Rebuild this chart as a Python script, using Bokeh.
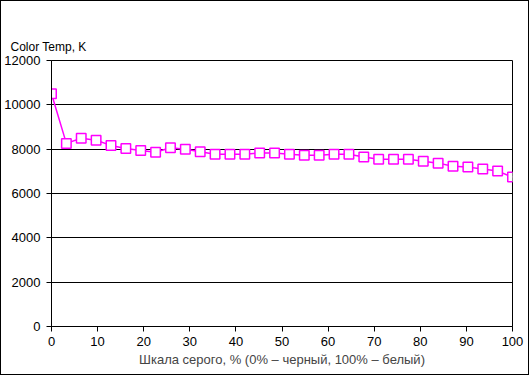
from bokeh.plotting import figure
from bokeh.models import Range1d, FixedTicker
from bokeh.embed import file_html
from bokeh.resources import INLINE

x_pct = [i * 100 / 31 for i in range(32)]
color_temp = [10500, 8260, 8490, 8400, 8170, 8030, 7940, 7860, 8060, 8000,
              7880, 7775, 7775, 7775, 7825, 7830, 7775, 7730, 7730, 7775,
              7775, 7650, 7550, 7550, 7550, 7460, 7370, 7230, 7190, 7100,
              7010, 6740]
x_ticks = [0, 10, 20, 30, 40, 50, 60, 70, 80, 90, 100]
y_ticks = [0, 2000, 4000, 6000, 8000, 10000, 12000]
y_title = "Color Temp, K"
x_title = "Шкала серого, % (0% – черный, 100% – белый)"

FONT = "Liberation Sans"
MAG = "#FF00FF"

p = figure(width=529, height=375, output_backend="svg", toolbar_location=None,
           x_range=Range1d(0, 100), y_range=Range1d(0, 12000),
           min_border_left=50, min_border_right=18, min_border_top=59,
           min_border_bottom=50)
p.styles = {"border": "1px solid black"}
p.background_fill_color = "white"
p.border_fill_color = "white"
p.outline_line_color = "black"
p.outline_line_width = 1

p.title.text = y_title
p.title.align = "left"
p.title.vertical_align = "top"
p.title.text_font = FONT
p.title.text_font_size = "12px"
p.title.text_font_style = "normal"
p.title.text_color = "black"
p.title.offset = -41

p.xgrid.grid_line_color = None
p.ygrid.grid_line_color = "black"
p.ygrid.grid_line_width = 1
p.ygrid.ticker = FixedTicker(ticks=y_ticks)

for ax in (p.xaxis[0], p.yaxis[0]):
    ax.axis_line_color = "black"
    ax.major_tick_line_color = "black"
    ax.major_tick_out = 5
    ax.major_tick_in = 0
    ax.minor_tick_line_color = None
    ax.major_label_text_font = FONT
    ax.major_label_text_font_size = "13px"
    ax.major_label_text_color = "#000000"

p.xaxis.ticker = FixedTicker(ticks=x_ticks)
p.yaxis.ticker = FixedTicker(ticks=y_ticks)
p.xaxis.major_label_standoff = 5
p.yaxis.major_label_standoff = 6
p.xaxis.axis_label = x_title
p.xaxis.axis_label_text_font = FONT
p.xaxis.axis_label_text_font_size = "13px"
p.xaxis.axis_label_text_font_style = "normal"
p.xaxis.axis_label_standoff = 3

p.line(x_pct, color_temp, line_color=MAG, line_width=1.5)
p.scatter(x_pct, color_temp, marker="square", size=9.5, line_color=MAG,
          line_width=1.5, fill_color="white")

open("out.html", "w").write(file_html(p, INLINE))
